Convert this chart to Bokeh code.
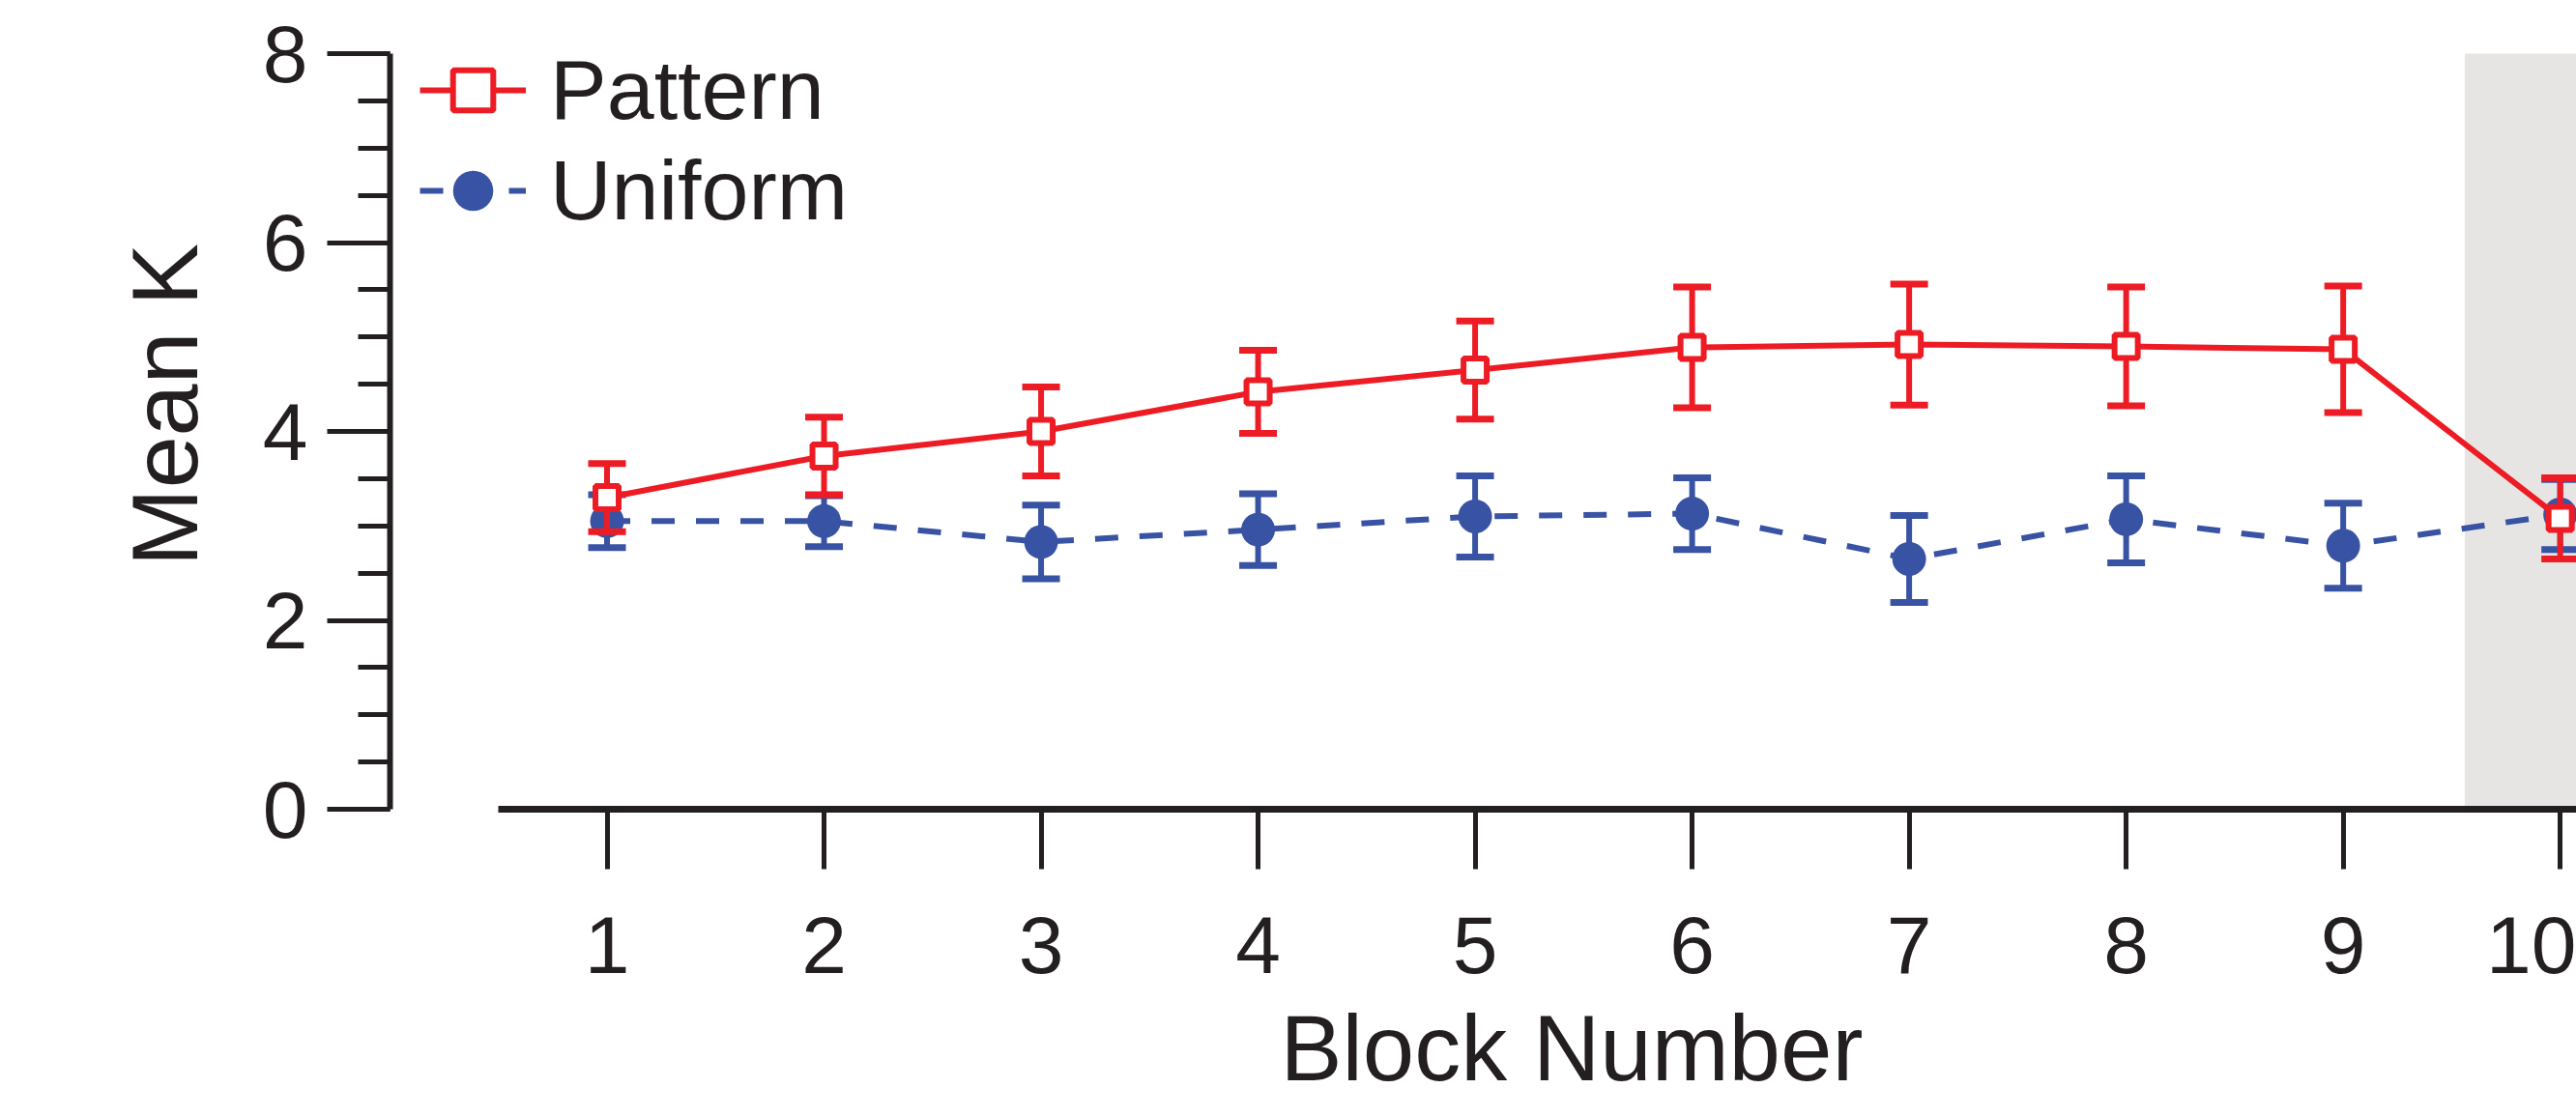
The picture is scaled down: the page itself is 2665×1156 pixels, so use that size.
from bokeh.plotting import figure
from bokeh.models import (ColumnDataSource, Range1d, FixedTicker, SingleIntervalTicker,
                          BoxAnnotation, Legend, LegendItem, Title)
from bokeh.embed import file_html
from bokeh.resources import INLINE

# Mean K per block, with error bar half-widths
blocks = [1, 2, 3, 4, 5, 6, 7, 8, 9, 10]
pattern_mean = [3.30, 3.74, 4.00, 4.42, 4.65, 4.89, 4.92, 4.90, 4.87, 3.08]
pattern_err = [0.36, 0.41, 0.47, 0.44, 0.52, 0.64, 0.64, 0.63, 0.67, 0.43]
uniform_mean = [3.05, 3.05, 2.83, 2.96, 3.10, 3.13, 2.65, 3.07, 2.79, 3.12]
uniform_err = [0.28, 0.27, 0.39, 0.38, 0.43, 0.38, 0.46, 0.46, 0.45, 0.37]
shaded_from = 9.56

RED = "#ed1c24"
BLUE = "#3953a4"
INK = "#231f20"
FONT = "Liberation Sans"


def series_source(means, errs):
    return ColumnDataSource(dict(
        x=blocks,
        y=means,
        lo=[m - e for m, e in zip(means, errs)],
        hi=[m + e for m, e in zip(means, errs)],
    ))


# the frame runs to the top edge; the y axis itself stops at 8
p = figure(width=2665, height=1156, output_backend="svg", toolbar_location=None,
           x_range=Range1d(0, 10.075), y_range=Range1d(0, 8.563),
           min_border_left=403, min_border_right=0, min_border_top=0,
           min_border_bottom=319)
p.outline_line_color = None
p.grid.visible = False
p.background_fill_color = "white"
p.border_fill_color = "white"

# shaded final block
p.add_layout(BoxAnnotation(left=shaded_from, bottom=0, top=8, fill_color="#e6e5e3",
                           fill_alpha=1.0, line_color=None, level="underlay"))

# y axis
ya = p.yaxis[0]
ya.ticker = SingleIntervalTicker(interval=2, num_minor_ticks=4)
ya.bounds = (0, 8)
ya.axis_line_width = 6
ya.axis_line_color = INK
ya.major_tick_line_width = 5
ya.minor_tick_line_width = 5
ya.major_tick_line_color = INK
ya.minor_tick_line_color = INK
ya.major_tick_out = 65
ya.major_tick_in = 0
ya.minor_tick_out = 33
ya.minor_tick_in = 0
ya.major_label_text_font = FONT
ya.major_label_text_font_size = "84px"
ya.major_label_text_color = INK
ya.major_label_standoff = 20
ya.axis_label = "Mean K"
ya.axis_label_text_font = FONT
ya.axis_label_text_font_size = "97px"
ya.axis_label_text_font_style = "normal"
ya.axis_label_text_color = INK
ya.axis_label_standoff = 44

# x axis
xa = p.xaxis[0]
xa.ticker = FixedTicker(ticks=blocks)
xa.bounds = (0.5, 10.5)
xa.axis_line_width = 7
xa.axis_line_color = INK
xa.major_tick_line_width = 5
xa.major_tick_line_color = INK
xa.minor_tick_line_color = None
xa.major_tick_out = 62
xa.major_tick_in = 0
xa.major_label_text_font = FONT
xa.major_label_text_font_size = "84px"
xa.major_label_text_color = INK
xa.major_label_standoff = 49

# x axis title, centred under the axis line (blocks 0.5 to 10.5)
p.add_layout(Title(text="Block Number", align="left", offset=921, standoff=38,
                   text_font=FONT, text_font_size="96px", text_font_style="normal",
                   text_color=INK), "below")

# Uniform series (drawn underneath)
u_src = series_source(uniform_mean, uniform_err)
p.segment(x0="x", y0="lo", x1="x", y1="hi", source=u_src, line_color=BLUE, line_width=6)
p.scatter("x", "lo", source=u_src, marker="dash", size=39, line_width=7, line_color=BLUE)
p.scatter("x", "hi", source=u_src, marker="dash", size=39, line_width=7, line_color=BLUE)
u_line = p.line("x", "y", source=u_src, line_color=BLUE, line_width=6, line_dash="24 22")
u_mark = p.scatter("x", "y", source=u_src, marker="circle", size=35,
                   fill_color=BLUE, line_color=None)

# Pattern series
p_src = series_source(pattern_mean, pattern_err)
p.segment(x0="x", y0="lo", x1="x", y1="hi", source=p_src, line_color=RED, line_width=6)
p.scatter("x", "lo", source=p_src, marker="dash", size=39, line_width=7, line_color=RED)
p.scatter("x", "hi", source=p_src, marker="dash", size=39, line_width=7, line_color=RED)
p_line = p.line("x", "y", source=p_src, line_color=RED, line_width=6)
p_mark = p.scatter("x", "y", source=p_src, marker="square", size=24,
                   fill_color="white", line_color=RED, line_width=6)

legend = Legend(items=[LegendItem(label="Pattern", renderers=[p_line, p_mark]),
                       LegendItem(label="Uniform", renderers=[u_line, u_mark])],
                location=(31, 588), orientation="vertical",
                glyph_width=110, glyph_height=104, label_height=104, spacing=0,
                padding=0, margin=0, label_standoff=25,
                label_text_font=FONT, label_text_font_size="88px",
                label_text_color=INK, background_fill_alpha=0,
                border_line_color=None)
p.add_layout(legend)

open("out.html", "w").write(file_html(p, INLINE))
